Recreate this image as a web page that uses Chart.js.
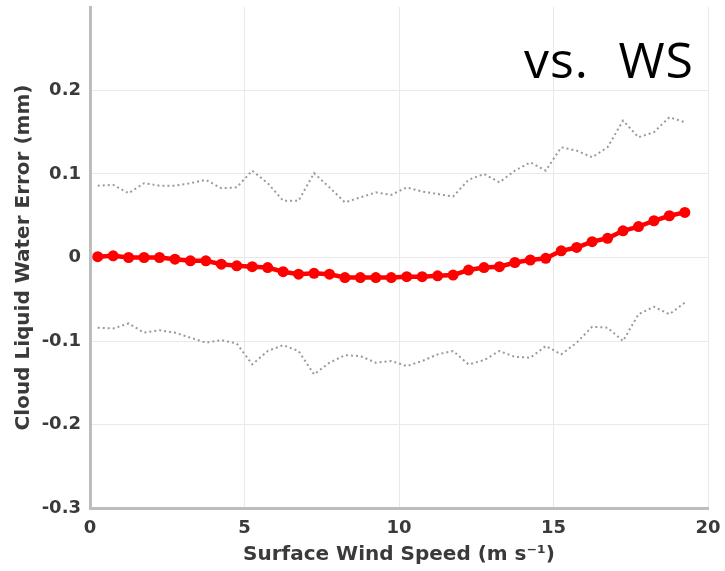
<!DOCTYPE html>
<html>
<head>
<meta charset="utf-8">
<script src="https://cdn.jsdelivr.net/npm/chart.js@4/dist/chart.umd.min.js"></script>
<style>
  html, body { margin: 0; padding: 0; background: #ffffff; }
  #c { display: block; }
</style>
</head>
<body>
<canvas id="c" width="725" height="571"></canvas>
<script>
// ---- data ----
const windSpeed = [0.25,0.75,1.25,1.75,2.25,2.75,3.25,3.75,4.25,4.75,5.25,5.75,6.25,6.75,7.25,7.75,8.25,8.75,9.25,9.75,10.25,10.75,11.25,11.75,12.25,12.75,13.25,13.75,14.25,14.75,15.25,15.75,16.25,16.75,17.25,17.75,18.25,18.75,19.25];
const meanError = [0.001,0.002,0.000,0.000,0.000,-0.002,-0.004,-0.004,-0.008,-0.010,-0.011,-0.012,-0.017,-0.020,-0.019,-0.020,-0.024,-0.024,-0.024,-0.024,-0.023,-0.023,-0.022,-0.021,-0.015,-0.012,-0.011,-0.006,-0.003,-0.001,0.008,0.012,0.019,0.023,0.032,0.037,0.044,0.050,0.054];
const upperBound = [0.086,0.087,0.077,0.089,0.086,0.086,0.089,0.093,0.083,0.084,0.104,0.089,0.068,0.068,0.101,0.084,0.066,0.072,0.078,0.075,0.084,0.079,0.076,0.073,0.093,0.100,0.090,0.104,0.114,0.104,0.132,0.128,0.120,0.132,0.164,0.144,0.150,0.168,0.162];
const lowerBound = [-0.084,-0.085,-0.079,-0.090,-0.087,-0.090,-0.096,-0.102,-0.099,-0.103,-0.128,-0.112,-0.105,-0.112,-0.140,-0.126,-0.117,-0.118,-0.126,-0.124,-0.130,-0.124,-0.116,-0.112,-0.128,-0.123,-0.112,-0.119,-0.120,-0.106,-0.116,-0.102,-0.083,-0.084,-0.100,-0.068,-0.059,-0.068,-0.054];
const xTickValues = [0, 5, 10, 15, 20];
const yTickValues = [-0.3, -0.2, -0.1, 0, 0.1, 0.2];
const xTitle = 'Surface Wind Speed (m s\u207B\u00B9)';
const yTitle = 'Cloud Liquid Water Error (mm)';
const overlayText = 'vs. WS';

// ---- build ----
const toPts = (ys) => windSpeed.map((x, i) => ({ x: x, y: ys[i] }));
const FONT = "'DejaVu Sans', sans-serif";
const TEXT = '#3a3a3a';

const overlayPlugin = {
  id: 'overlayText',
  afterDraw(chart) {
    const ctx = chart.ctx;
    const words = overlayText.split(' ');
    ctx.save();
    ctx.font = "50px 'Open Sans', Lato, sans-serif";
    ctx.fillStyle = '#000000';
    ctx.textBaseline = 'alphabetic';
    try { ctx.letterSpacing = '1px'; } catch (e) {}
    ctx.textAlign = 'left';
    ctx.fillText(words[0], 524, 78);
    ctx.textAlign = 'right';
    ctx.fillText(words[1], 694, 78);
    ctx.restore();
  }
};

new Chart(document.getElementById('c'), {
  type: 'line',
  data: {
    datasets: [
      {
        data: toPts(meanError),
        borderColor: '#ff0000',
        backgroundColor: '#ff0000',
        borderWidth: 4.5,
        pointRadius: 5.5,
        pointBorderWidth: 0,
        pointBackgroundColor: '#ff0000',
        tension: 0,
        order: 0
      },
      {
        data: toPts(upperBound),
        borderColor: '#9a9a9a',
        borderWidth: 2,
        borderDash: [2, 3],
        pointRadius: 0,
        tension: 0,
        order: 1
      },
      {
        data: toPts(lowerBound),
        borderColor: '#9a9a9a',
        borderWidth: 2,
        borderDash: [2, 3],
        pointRadius: 0,
        tension: 0,
        order: 1
      }
    ]
  },
  options: {
    responsive: false,
    animation: false,
    devicePixelRatio: 1,
    layout: { padding: { top: 7, right: 17, left: 0, bottom: 0 } },
    plugins: { legend: { display: false }, tooltip: { enabled: false } },
    font: { family: FONT },
    scales: {
      x: {
        type: 'linear',
        min: 0,
        max: 20,
        afterBuildTicks: (s) => { s.ticks = xTickValues.map(v => ({ value: v })); },
        afterFit: (s) => { s.height = 63; s.paddingLeft = 0; s.paddingRight = 0; },
        ticks: {
          color: TEXT,
          padding: 10,
          maxRotation: 0,
          font: { family: FONT, size: 18, weight: 'bold' },
          callback: (v) => String(v)
        },
        grid: { color: '#e9e9e9', lineWidth: 1, drawTicks: false },
        border: { display: true, color: '#bdbdbd', width: 3 },
        title: {
          display: true,
          text: xTitle,
          color: TEXT,
          font: { family: FONT, size: 20, weight: 'bold' },
          padding: { top: 4, bottom: 4 }
        }
      },
      y: {
        type: 'linear',
        min: -0.3,
        max: 0.3,
        afterBuildTicks: (s) => { s.ticks = yTickValues.map(v => ({ value: v })); },
        afterFit: (s) => { s.width = 90; s.paddingTop = 0; s.paddingBottom = 0; },
        ticks: {
          color: TEXT,
          padding: 9,
          font: { family: FONT, size: 18, weight: 'bold' },
          callback: (v) => String(Math.round(v * 10) / 10)
        },
        grid: { color: '#e9e9e9', lineWidth: 1, drawTicks: false },
        border: { display: true, color: '#bdbdbd', width: 3 },
        title: {
          display: true,
          text: yTitle,
          color: TEXT,
          font: { family: FONT, size: 20, weight: 'bold' },
          padding: { top: 12, bottom: 12 }
        }
      }
    }
  },
  plugins: [overlayPlugin]
});
</script>
</body>
</html>
